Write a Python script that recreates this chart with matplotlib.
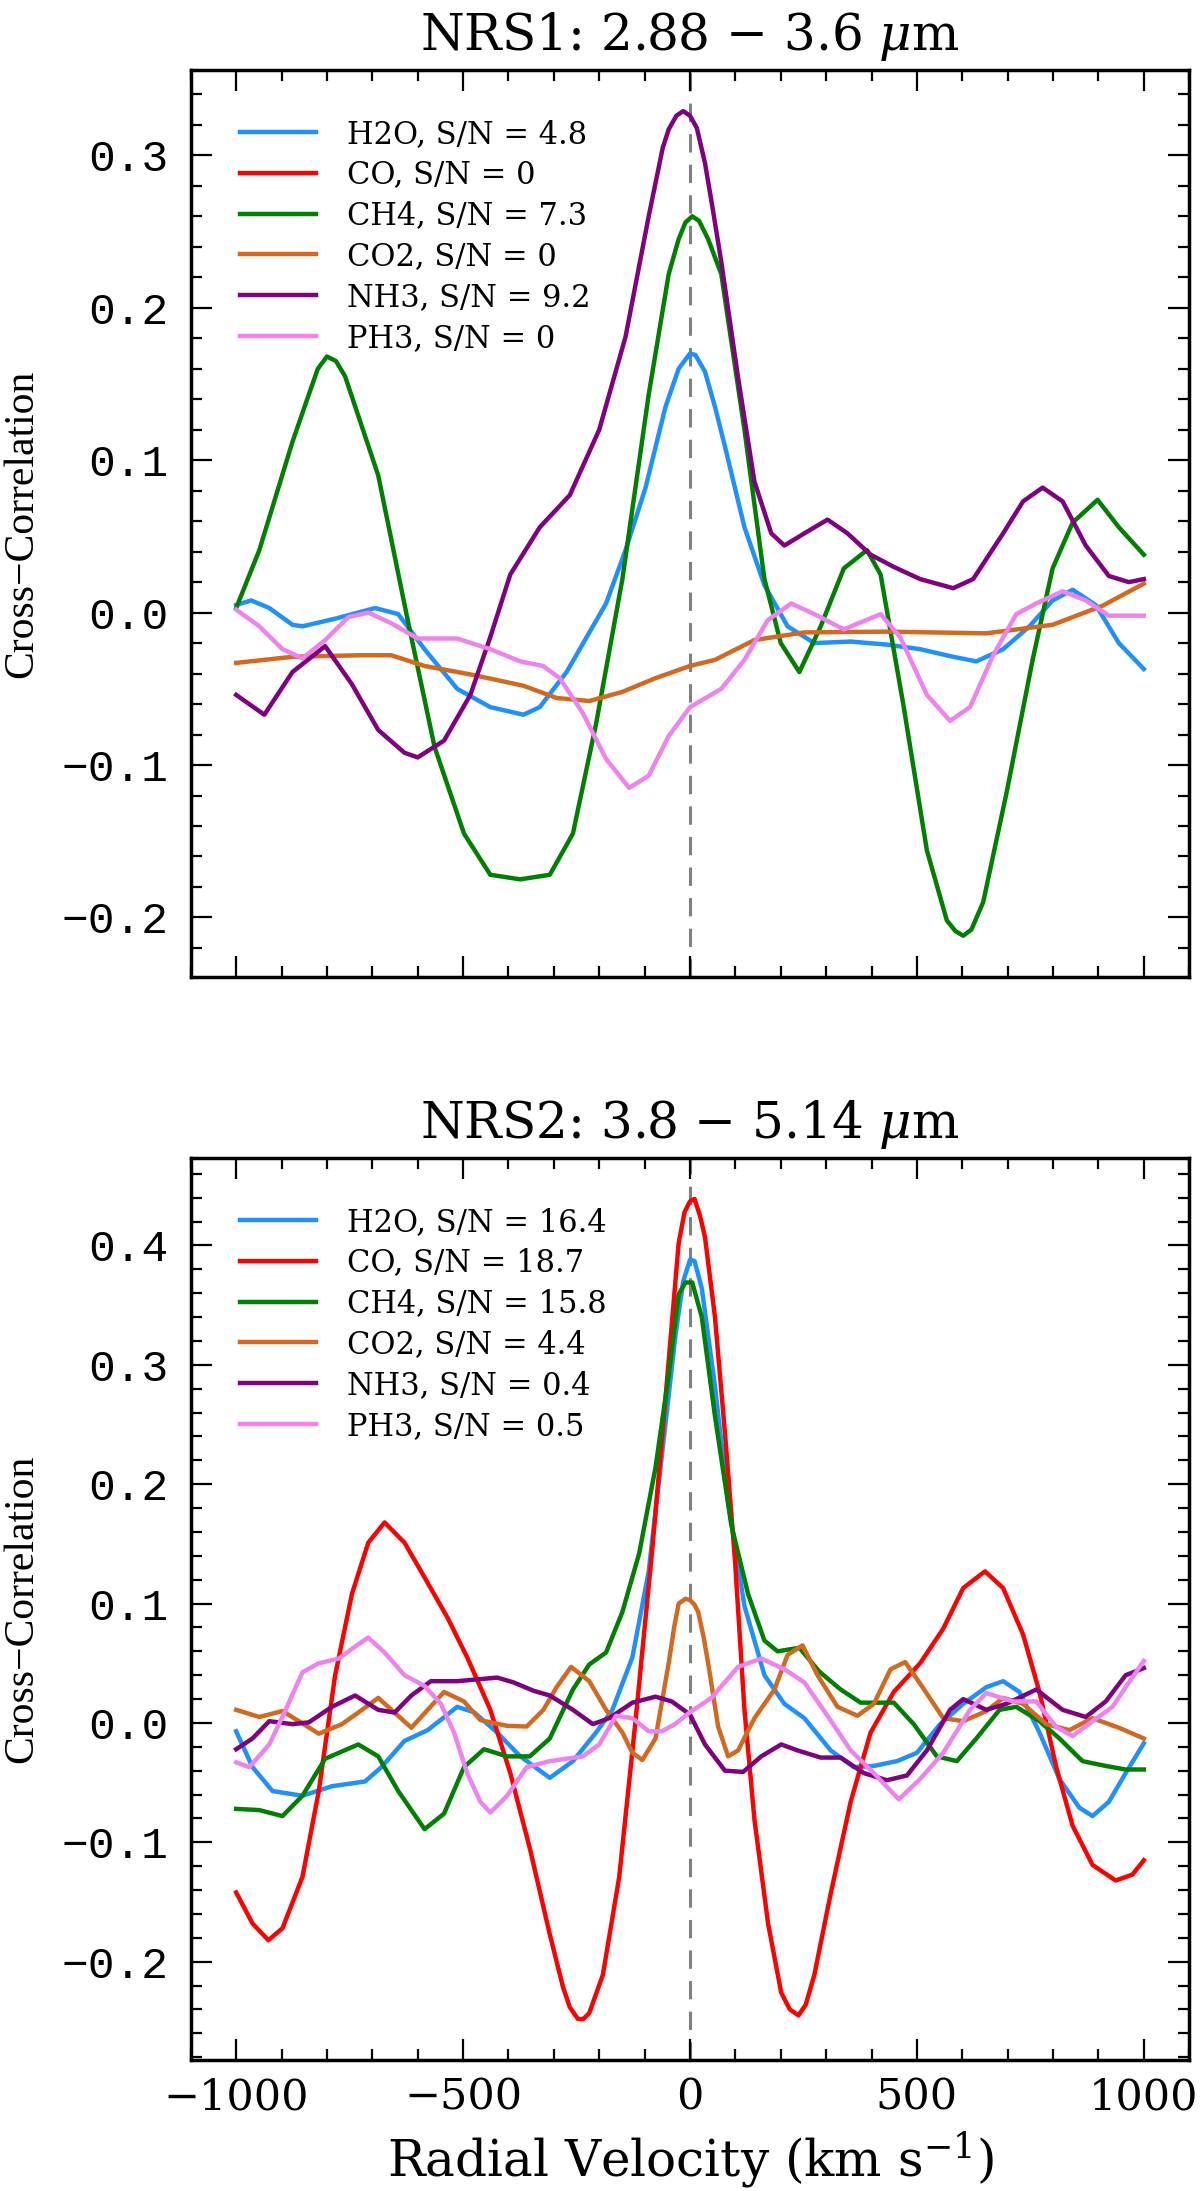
import matplotlib
matplotlib.use('Agg')
import matplotlib.pyplot as plt
from matplotlib.ticker import MultipleLocator

plt.rcParams['font.family'] = ['DejaVu Serif']
plt.rcParams['mathtext.fontset'] = 'dejavuserif'

# ---- NRS1 panel (2.88 - 3.6 um) ----
nrs1_h2o_v = [-1000, -967, -927, -876, -854, -782, -694, -643, -585, -513, -440, -367, -331, -272, -185, -142, -98, -54, -25, 0,
              12, 33, 55, 77, 120, 164, 215, 274, 354, 434, 507, 580, 631, 690, 748, 799, 843, 894, 945, 1000]
nrs1_h2o = [0.005, 0.008, 0.003, -0.008, -0.009, -0.004, 0.003, -0.001, -0.024, -0.050, -0.062, -0.067, -0.062, -0.039, 0.006, 0.041, 0.082, 0.135, 0.160, 0.170,
            0.169, 0.158, 0.135, 0.109, 0.056, 0.018, -0.009, -0.020, -0.019, -0.021, -0.024, -0.029, -0.032, -0.024, -0.009, 0.008, 0.015, 0.005, -0.020, -0.037]

nrs1_co_v = []
nrs1_co = []

nrs1_ch4_v = [-1000, -949, -876, -840, -820, -800, -780, -760, -687, -622, -563, -498, -440, -374, -309, -258, -207, -149, -91, -47, -25, -10, 5, 20, 40,
              69, 120, 164, 200, 241, 288, 339, 390, 420, 471, 522, 566, 585, 602, 620, 646, 697, 755, 799, 843, 898, 945, 1000]
nrs1_ch4 = [0.003, 0.041, 0.112, 0.143, 0.160, 0.168, 0.165, 0.155, 0.090, -0.005, -0.088, -0.145, -0.172, -0.175, -0.172, -0.145, -0.073, 0.022, 0.143, 0.222, 0.245, 0.256, 0.260, 0.257, 0.245,
            0.222, 0.120, 0.022, -0.020, -0.039, -0.009, 0.029, 0.041, 0.025, -0.062, -0.156, -0.202, -0.209, -0.212, -0.208, -0.190, -0.119, -0.031, 0.029, 0.059, 0.074, 0.056, 0.038]

nrs1_co2_v = [-1000, -876, -731, -658, -585, -476, -367, -294, -222, -149, -76, 0, 55, 142, 252, 434, 653, 799, 909, 1000]
nrs1_co2 = [-0.033, -0.029, -0.028, -0.028, -0.035, -0.041, -0.048, -0.056, -0.058, -0.052, -0.043, -0.035, -0.031, -0.018, -0.013, -0.0125, -0.0136, -0.008, 0.0045, 0.019]

nrs1_nh3_v = [-1000, -938, -876, -804, -745, -687, -629, -600, -542, -484, -440, -396, -331, -265, -200, -142, -91, -60, -47, -30, -15, 0,
              15, 33, 50, 69, 106, 142, 179, 208, 252, 303, 347, 398, 449, 507, 580, 624, 690, 734, 777, 821, 872, 923, 967, 1000]
nrs1_nh3 = [-0.054, -0.067, -0.039, -0.022, -0.047, -0.077, -0.092, -0.095, -0.084, -0.054, -0.016, 0.025, 0.056, 0.077, 0.120, 0.181, 0.260, 0.305, 0.317, 0.326, 0.329, 0.326,
            0.318, 0.295, 0.265, 0.230, 0.154, 0.086, 0.052, 0.044, 0.052, 0.061, 0.052, 0.038, 0.030, 0.022, 0.016, 0.022, 0.052, 0.073, 0.082, 0.073, 0.044, 0.024, 0.020, 0.022]

nrs1_ph3_v = [-1000, -949, -898, -854, -804, -753, -709, -658, -600, -513, -440, -374, -324, -287, -236, -185, -134, -91, -47, 0,
              69, 120, 171, 223, 274, 339, 420, 463, 522, 573, 617, 668, 719, 763, 821, 872, 923, 1000]
nrs1_ph3 = [0.002, -0.009, -0.024, -0.030, -0.018, -0.003, 0.000, -0.007, -0.017, -0.017, -0.024, -0.032, -0.035, -0.043, -0.066, -0.096, -0.115, -0.107, -0.081, -0.062,
            -0.050, -0.031, -0.005, 0.006, -0.001, -0.011, -0.001, -0.016, -0.054, -0.071, -0.062, -0.028, -0.001, 0.006, 0.014, 0.008, -0.002, -0.002]

# ---- NRS2 panel (3.8 - 5.14 um) ----
nrs2_h2o_v = [-1000, -964, -920, -854, -789, -716, -680, -629, -578, -513, -476, -425, -374, -309, -258, -207, -171, -127, -91, -62, -32, -15, 0,
              10, 26, 55, 84, 120, 164, 208, 252, 310, 361, 405, 456, 500, 551, 602, 653, 690, 726, 770, 814, 858, 887, 923, 960, 1000]
nrs2_h2o = [-0.007, -0.037, -0.057, -0.061, -0.053, -0.049, -0.037, -0.015, -0.006, 0.0135, 0.009, -0.008, -0.028, -0.046, -0.032, -0.008, 0.011, 0.055, 0.127, 0.224, 0.325, 0.370, 0.388,
            0.387, 0.364, 0.282, 0.185, 0.098, 0.040, 0.016, 0.004, -0.023, -0.037, -0.036, -0.032, -0.025, -0.001, 0.016, 0.030, 0.035, 0.026, -0.008, -0.047, -0.071, -0.078, -0.066, -0.042, -0.017]

nrs2_co_v = [-1000, -964, -929, -898, -854, -818, -782, -745, -709, -673, -629, -585, -534, -491, -440, -396, -353, -309, -280, -265, -247, -235, -222, -192, -156, -120, -83, -54, -25, -12, 0, 10, 22,
             33, 55, 77, 99, 120, 142, 172, 201, 220, 239, 255, 274, 310, 354, 398, 449, 507, 558, 602, 650, 690, 734, 770, 807, 843, 887, 938, 975, 1000]
nrs2_co = [-0.142, -0.168, -0.182, -0.172, -0.129, -0.057, 0.040, 0.108, 0.151, 0.168, 0.151, 0.122, 0.088, 0.055, 0.011, -0.042, -0.105, -0.177, -0.221, -0.238, -0.248, -0.248, -0.243, -0.211, -0.129, 0.002, 0.146, 0.272, 0.402, 0.428, 0.437, 0.439, 0.425,
           0.407, 0.340, 0.243, 0.137, 0.011, -0.081, -0.168, -0.226, -0.240, -0.245, -0.236, -0.211, -0.143, -0.066, -0.008, 0.026, 0.050, 0.079, 0.113, 0.127, 0.113, 0.074, 0.026, -0.037, -0.086, -0.119, -0.132, -0.127, -0.115]

nrs2_ch4_v = [-1000, -949, -898, -854, -804, -731, -687, -643, -585, -542, -498, -454, -403, -353, -309, -258, -222, -185, -149, -112, -76, -47, -25, -10, 5,
              26, 55, 91, 128, 164, 193, 241, 285, 332, 376, 449, 493, 544, 588, 631, 682, 719, 770, 814, 865, 916, 960, 1000]
nrs2_ch4 = [-0.072, -0.073, -0.078, -0.061, -0.030, -0.018, -0.028, -0.057, -0.089, -0.076, -0.037, -0.022, -0.028, -0.028, -0.013, 0.028, 0.049, 0.059, 0.093, 0.142, 0.214, 0.291, 0.359, 0.369, 0.369,
            0.340, 0.257, 0.166, 0.108, 0.069, 0.060, 0.063, 0.043, 0.028, 0.017, 0.017, -0.001, -0.028, -0.032, -0.013, 0.011, 0.0135, 0.0015, -0.013, -0.032, -0.036, -0.039, -0.039]

nrs2_co2_v = [-1000, -949, -898, -862, -818, -767, -731, -687, -651, -614, -578, -542, -498, -462, -403, -360, -323, -294, -262, -222, -185, -149, -127, -105, -76, -47, -35, -25, -10, 0,
              10, 18, 30, 40, 62, 84, 106, 142, 186, 215, 248, 281, 325, 369, 405, 442, 474, 507, 558, 602, 653, 690, 734, 785, 836, 887, 945, 1000]
nrs2_co2 = [0.011, 0.005, 0.010, 0.0015, -0.009, -0.001, 0.0087, 0.021, 0.0087, -0.004, 0.011, 0.026, 0.018, 0.0024, -0.0024, -0.003, 0.011, 0.030, 0.047, 0.035, 0.011, -0.008, -0.025, -0.031, -0.013, 0.050, 0.080, 0.100, 0.104, 0.103,
            0.099, 0.093, 0.072, 0.050, -0.003, -0.028, -0.023, 0.004, 0.028, 0.057, 0.065, 0.040, 0.0135, 0.006, 0.016, 0.045, 0.051, 0.033, 0.004, 0.0015, 0.010, 0.021, 0.016, -0.001, -0.006, 0.004, -0.004, -0.013]

nrs2_nh3_v = [-1000, -964, -927, -876, -840, -789, -738, -687, -651, -614, -571, -513, -425, -389, -345, -309, -258, -214, -178, -127, -76, -40, 0,
              33, 77, 117, 157, 201, 237, 288, 332, 383, 434, 478, 522, 573, 602, 653, 697, 763, 821, 872, 916, 960, 1000]
nrs2_nh3 = [-0.022, -0.013, 0.0015, -0.001, 0.0005, 0.0135, 0.023, 0.011, 0.0087, 0.023, 0.035, 0.035, 0.038, 0.034, 0.027, 0.023, 0.011, -0.001, 0.004, 0.017, 0.022, 0.018, 0.007,
            -0.018, -0.040, -0.041, -0.028, -0.018, -0.023, -0.029, -0.029, -0.042, -0.048, -0.044, -0.023, 0.011, 0.020, 0.011, 0.016, 0.028, 0.011, 0.005, 0.018, 0.040, 0.046]

nrs2_ph3_v = [-1000, -971, -927, -891, -854, -818, -774, -738, -709, -673, -629, -585, -549, -520, -491, -462, -440, -403, -360, -309, -236, -200, -163, -127, -91, -62, -33, 0,
              47, 106, 157, 208, 252, 303, 354, 405, 460, 507, 558, 617, 653, 712, 763, 807, 843, 887, 931, 960, 1000]
nrs2_ph3 = [-0.033, -0.037, -0.018, 0.011, 0.0425, 0.050, 0.054, 0.064, 0.0715, 0.059, 0.040, 0.031, 0.016, -0.008, -0.042, -0.066, -0.075, -0.061, -0.037, -0.032, -0.028, -0.018, 0.006, 0.004, -0.007, -0.007, -0.001, 0.009,
            0.021, 0.047, 0.054, 0.045, 0.034, 0.006, -0.023, -0.042, -0.064, -0.047, -0.025, 0.011, 0.025, 0.018, 0.018, -0.0034, -0.011, 0.0015, 0.0135, 0.030, 0.052]

molecules = ['H2O', 'CO', 'CH4', 'CO2', 'NH3', 'PH3']
colors = ['dodgerblue', 'red', 'green', 'chocolate', 'purple', 'violet']
nrs1_snr = ['4.8', '0', '7.3', '0', '9.2', '0']
nrs2_snr = ['16.4', '18.7', '15.8', '4.4', '0.4', '0.5']

nrs1_series = [(nrs1_h2o_v, nrs1_h2o), (nrs1_co_v, nrs1_co), (nrs1_ch4_v, nrs1_ch4),
               (nrs1_co2_v, nrs1_co2), (nrs1_nh3_v, nrs1_nh3), (nrs1_ph3_v, nrs1_ph3)]
nrs2_series = [(nrs2_h2o_v, nrs2_h2o), (nrs2_co_v, nrs2_co), (nrs2_ch4_v, nrs2_ch4),
               (nrs2_co2_v, nrs2_co2), (nrs2_nh3_v, nrs2_nh3), (nrs2_ph3_v, nrs2_ph3)]

fig = plt.figure(figsize=(12, 21.91), dpi=100)
ax1 = fig.add_axes([0.159, 0.5541, 0.832, 0.4140])
ax2 = fig.add_axes([0.159, 0.0598, 0.832, 0.4117])


def draw_panel(ax, series, snrs, title):
    ax.axvline(0, color='gray', ls='--', lw=2.2, dashes=(6, 4), zorder=0)
    for (v, cc), mol, col, snr in zip(series, molecules, colors, snrs):
        ax.plot(v, cc, color=col, lw=3.2, solid_joinstyle='round', label=f'{mol}, S/N = {snr}')
    ax.set_xlim(-1100, 1100)
    ax.margins(y=0.05)
    ax.set_title(title, fontsize=36, pad=14)
    ax.set_ylabel('Cross\u2212Correlation', fontsize=30, family='Liberation Serif')
    ax.yaxis.set_label_coords(-0.15, 0.5)
    ax.xaxis.set_major_locator(MultipleLocator(500))
    ax.xaxis.set_minor_locator(MultipleLocator(100))
    ax.yaxis.set_major_locator(MultipleLocator(0.1))
    ax.yaxis.set_minor_locator(MultipleLocator(0.02))
    ax.tick_params(which='both', direction='in', top=True, right=True, width=1.6)
    ax.tick_params(which='major', length=15)
    ax.tick_params(which='minor', length=8)
    ax.tick_params(axis='x', pad=12, labelsize=31)
    ax.tick_params(axis='y', pad=16, labelsize=32)
    for lab in ax.get_yticklabels():
        lab.set_family('Liberation Mono')
    for sp in ax.spines.values():
        sp.set_linewidth(2.5)
    ax.legend(loc='upper left', frameon=False, fontsize=22, handlelength=2.5,
              handletextpad=1.0, labelspacing=0.32, borderaxespad=1.2)


draw_panel(ax1, nrs1_series, nrs1_snr, r'NRS1: 2.88 $-$ 3.6 $\mu$m')
draw_panel(ax2, nrs2_series, nrs2_snr, r'NRS2: 3.8 $-$ 5.14 $\mu$m')
ax1.tick_params(axis='x', labelbottom=False)
ax2.set_xlabel('Radial Velocity (km s$^{-1}$)', fontsize=36, labelpad=8)

fig.savefig('out.png', dpi=100)
